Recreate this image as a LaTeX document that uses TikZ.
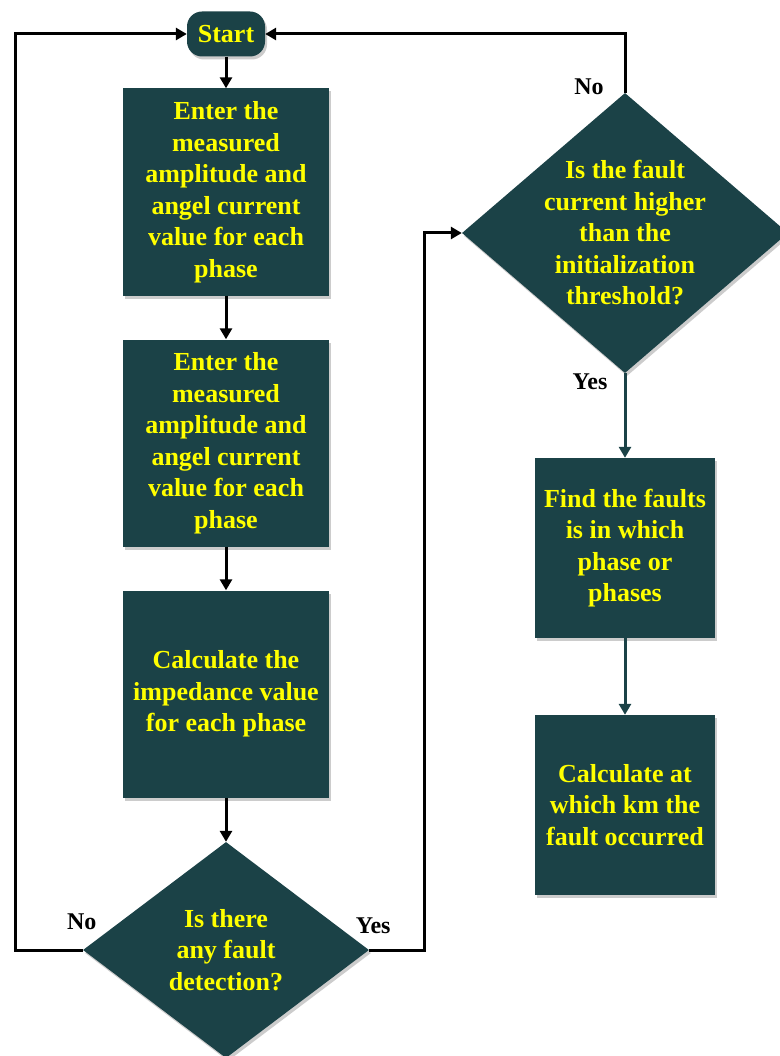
\documentclass[tikz,border=0pt]{standalone}
\usepackage{fontspec}
\setmainfont{Liberation Serif}
\usetikzlibrary{shapes.geometric,arrows.meta,shadows}
\definecolor{boxteal}{RGB}{27,66,71}
\definecolor{boxyellow}{RGB}{255,255,0}

\begin{document}
\begin{tikzpicture}
[x=1pt,y=-1pt,
  stepdecorate/.style={shape=rectangle,fill=boxteal,text=boxyellow,align=center,%
    font=\fontsize{26}{31.5}\selectfont\bfseries,inner sep=0pt,%
    drop shadow={shadow xshift=2pt,shadow yshift=-3pt,opacity=0.4}},
  startdecorate/.style={stepdecorate,rounded corners=15pt,minimum width=78pt,minimum height=45pt},
  boxdecorate/.style={stepdecorate,minimum width=206pt,minimum height=207pt},
  smallboxdecorate/.style={stepdecorate,minimum width=180pt,minimum height=180pt},
  decisiondecorate/.style={stepdecorate,shape=diamond},
  textdecorate/.style={align=center,text=boxyellow,font=\fontsize{26}{31.5}\selectfont\bfseries},
  labeldecorate/.style={font=\fontsize{24}{28}\selectfont\bfseries},
  linedecorate/.style={-{Triangle[length=11pt,width=12pt]},line width=3pt},
  teallinedecorate/.style={linedecorate,draw=boxteal}]
\useasboundingbox (0,0) rectangle (779,1056);
%% nodes or steps
\node (start) at (226,34) [startdecorate] {Start};
\node (enter1) at (226,192) [boxdecorate] {Enter the\\measured\\amplitude and\\angel current\\value for each\\phase};
\node (enter2) at (226,443) [boxdecorate] {Enter the\\measured\\amplitude and\\angel current\\value for each\\phase};
\node (calcimp) at (226,694) [boxdecorate] {Calculate the\\impedance value\\for each phase};
\node (detect) at (226,950) [decisiondecorate,minimum width=286pt,minimum height=216pt] {};
\node (detecttext) at (detect.center) [textdecorate] {Is there\\any fault\\detection?};
\node (threshold) at (625,233) [decisiondecorate,minimum width=326pt,minimum height=280pt] {};
\node (thresholdtext) at (threshold.center) [textdecorate] {Is the fault\\current higher\\than the\\initialization\\threshold?};
\node (findphase) at (625,548) [smallboxdecorate] {Find the faults\\is in which\\phase or\\phases};
\node (calckm) at (625,805) [smallboxdecorate] {Calculate at\\which km the\\fault occurred};
%% labels
\node (nodetect) at ([xshift=-1pt,yshift=28pt]detect.west) [labeldecorate] {No};
\node (yesdetect) at ([xshift=4pt,yshift=24pt]detect.east) [labeldecorate] {Yes};
\node (nothreshold) at ([xshift=-36pt,yshift=6pt]threshold.north) [labeldecorate] {No};
\node (yesthreshold) at ([xshift=-35pt,yshift=-9pt]threshold.south) [labeldecorate] {Yes};
%% edges or lines
\path
\foreach \startnode/\endnode in {start/enter1, enter1/enter2, enter2/calcimp, calcimp/detect} {
  (\startnode) edge[linedecorate] (\endnode)
};
\draw[linedecorate] (detect.west) -- ++(-67,0) |- (start.west);
\draw[linedecorate] (detect.east) -- ++(55,0) |- (threshold.west);
\draw[linedecorate] (threshold.north) |- (start.east);
\draw[teallinedecorate] (threshold.south) -- (findphase.north);
\draw[teallinedecorate] (findphase.south) -- (calckm.north);
\end{tikzpicture}
\end{document}
